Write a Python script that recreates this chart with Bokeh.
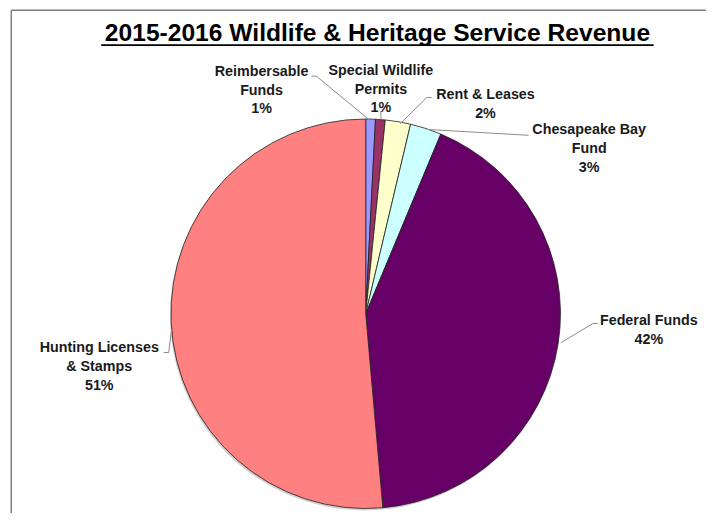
import numpy as np
from bokeh.plotting import figure
from bokeh.models import Range1d, ColumnDataSource
from bokeh.core.properties import value
from bokeh.embed import file_html
from bokeh.resources import INLINE

# ---- data ----
categories = ["Reimbersable\nFunds", "Special Wildlife\nPermits", "Rent & Leases",
              "Chesapeake Bay\nFund", "Federal Funds", "Hunting Licenses\n& Stamps"]
revenue_share = [0.8, 0.8, 2.1, 2.6, 42.3, 51.4]
colors = ["#9999FF", "#993366", "#FFFFCC", "#CCFFFF", "#660066", "#FF8080"]
title_text = "2015-2016 Wildlife & Heritage Service Revenue"

# ---- layout ----
W, H = 706, 513
SX, SY = W / 722.0, H / 529.0          # reference px -> figure px
RCX, RCY, RR = 373.5, 323.0, 200.0      # pie centre / radius in reference px
FCX, FCY = RCX * SX, RCY * SY
R = RR * (SX + SY) / 2.0


def dx(x):
    return (x * SX - FCX) / R


def dy(y):
    return (FCY - y * SY) / R


label_pos = [(267, 73), (389, 72), (496, 97), (602, 133), (663, 330), (101, 358)]
leaders = [
    [(318, 78), (323, 78), (377, 123)],
    [(389, 114), (389, 123)],
    [(441, 100), (436, 100), (409, 127)],
    [(540, 139), (437, 133)],
    [(611, 333), (606, 333), (573, 353)],
    [(167, 363), (172, 363), (175, 339)],
]

p = figure(width=W, height=H, output_backend="svg", toolbar_location=None,
           x_range=Range1d(-FCX / R, (W - FCX) / R),
           y_range=Range1d((FCY - H) / R, FCY / R),
           x_axis_type=None, y_axis_type=None, min_border=0)
p.outline_line_color = None
p.background_fill_color = "white"
p.border_fill_color = "white"

# frame lines (top and left only)
p.segment(x0=[dx(11), dx(11)], y0=[dy(10), dy(10)], x1=[dx(11), dx(740)],
          y1=[dy(540), dy(10)], line_color="#7f7f7f", line_width=1.5)

# pie
vals = np.array(revenue_share, dtype=float)
frac = vals / vals.sum()
cum = np.concatenate([[0], np.cumsum(frac)])
start = np.pi / 2 - 2 * np.pi * cum[:-1]
end = np.pi / 2 - 2 * np.pi * cum[1:]
pct = [f"{int(round(f * 100))}%" for f in frac]

# soft shadow
p.circle(x=[dx(RCX - 1)], y=[dy(RCY + 2)], radius=1.0, fill_color="#999999",
         fill_alpha=0.45, line_color=None)

src = ColumnDataSource(dict(start=start, end=end, color=colors, name=categories, pct=pct))
p.wedge(x=0, y=0, radius=1.0, start_angle="start", end_angle="end", direction="clock",
        fill_color="color", line_color="#222222", line_width=0.8, source=src)

# leader lines
p.multi_line(xs=[[dx(a) for a, b in L] for L in leaders],
             ys=[[dy(b) for a, b in L] for L in leaders],
             line_color="#8c8c8c", line_width=1)

# labels
FS = 14.3
LHF = 1.17
lab_text = [f"{n}\n{q}" for n, q in zip(categories, pct)]
p.text(x=[dx(x) for x, y in label_pos],
       y=[dy(y - FS * LHF / 2 / SY) for x, y in label_pos],
       text=lab_text, text_align="center", text_baseline="top",
       text_font=value("Liberation Sans"), text_font_style="bold",
       text_font_size=f"{FS}px", text_line_height=LHF, text_color="#1a1a1a")

# title with underline
p.text(x=[dx(385.5)], y=[dy(33)], text=[title_text], text_align="center",
       text_baseline="middle", text_font=value("Liberation Sans"),
       text_font_style="bold", text_font_size="24.6px", text_color="black")
p.segment(x0=[dx(103)], y0=[dy(46)], x1=[dx(668)], y1=[dy(46)],
          line_color="black", line_width=1.6)

open("out.html", "w").write(file_html(p, INLINE))
